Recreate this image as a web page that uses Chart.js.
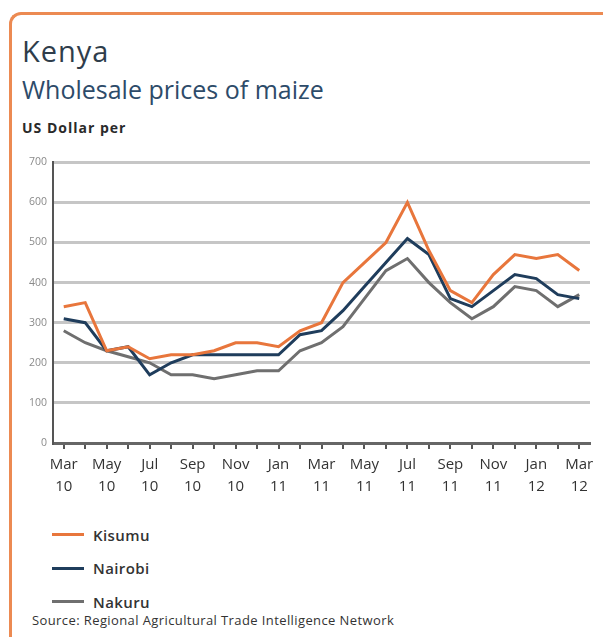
<!DOCTYPE html>
<html>
<head>
<meta charset="utf-8">
<script src="https://cdn.jsdelivr.net/npm/chart.js@4"></script>
<style>
  html, body { margin: 0; padding: 0; background: #fff; }
  body { width: 603px; height: 637px; position: relative; overflow: hidden; font-family: "Open Sans", "Noto Sans", sans-serif; }
  .frame { position: absolute; left: 9px; top: 12px; width: 600px; height: 640px; border-left: 3px solid #ec8a52; border-top: 3px solid #ec8a52; border-top-left-radius: 12px; box-sizing: border-box; }
  .title { position: absolute; left: 22px; top: 31px; font-size: 29px; color: #2f3d4b; letter-spacing: 1px; }
  .subtitle { position: absolute; left: 22px; top: 72px; font-size: 25px; color: #2d4b69; }
  .unit { position: absolute; left: 22px; top: 118px; font-size: 14px; font-weight: bold; color: #2a2a2a; letter-spacing: 1px; }
  #wrap { position: absolute; left: 0; top: 150px; width: 603px; height: 350px; }
  .legend { position: absolute; left: 52px; top: 518px; font-size: 15px; font-weight: 600; color: #333; letter-spacing: 0.4px; }
  .legend div { height: 33.5px; display: flex; align-items: center; }
  .legend i { display: inline-block; width: 32px; height: 3px; margin-right: 9px; }
  .source { position: absolute; left: 32px; top: 611px; font-size: 13px; color: #333; letter-spacing: 0.4px; }
</style>
</head>
<body>
<div class="frame"></div>
<div class="title">Kenya</div>
<div class="subtitle">Wholesale prices of maize</div>
<div class="unit">US Dollar per</div>
<div id="wrap"><canvas id="grafico"></canvas></div>
<div class="legend" id="legenda"></div>
<div class="source">Source: Regional Agricultural Trade Intelligence Network</div>
<script>
// Meses de Mar 10 a Mar 12
const meses = ["Mar","Apr","May","Jun","Jul","Aug","Sep","Oct","Nov","Dec","Jan","Feb",
               "Mar","Apr","May","Jun","Jul","Aug","Sep","Oct","Nov","Dec","Jan","Feb","Mar"];
const anos = ["10","10","10","10","10","10","10","10","10","10","11","11",
              "11","11","11","11","11","11","11","11","11","11","12","12","12"];

// Preços (USD por tonelada)
const kisumu  = [340,350,230,240,210,220,220,230,250,250,240,280,300,400,450,500,600,480,380,350,420,470,460,470,430];
const nairobi = [310,300,230,240,170,200,220,220,220,220,220,270,280,330,390,450,510,470,360,340,380,420,410,370,360];
const nakuru  = [280,250,230,215,200,170,170,160,170,180,180,230,250,290,360,430,460,400,350,310,340,390,380,340,370];

const yTicks = [0,100,200,300,400,500,600,700];

const series = [
    { label: "Kisumu",  data: kisumu,  cor: "#e8763c" },
    { label: "Nairobi", data: nairobi, cor: "#1f3d5c" },
    { label: "Nakuru",  data: nakuru,  cor: "#6f6f6f" }
];

const labels = meses.map((m, i) => [m, anos[i]]);

new Chart(document.getElementById("grafico"), {
    type: "line",
    data: {
        labels: labels,
        datasets: series.map(s => ({
            label: s.label,
            data: s.data,
            borderColor: s.cor,
            backgroundColor: s.cor,
            borderWidth: 3,
            pointRadius: 0,
            tension: 0
        }))
    },
    options: {
        responsive: true,
        maintainAspectRatio: false,
        animation: false,
        layout: { padding: { top: 12, right: 13, left: 0, bottom: 0 } },
        plugins: { legend: { display: false }, tooltip: { enabled: false } },
        scales: {
            x: {
                offset: true,
                grid: {
                    offset: false,
                    drawOnChartArea: false,
                    drawTicks: true,
                    tickLength: 6,
                    color: "#555",
                    lineWidth: 2
                },
                border: { color: "#666", width: 3 },
                ticks: {
                    autoSkip: false,
                    maxRotation: 0,
                    padding: 5,
                    color: "#333",
                    font: { family: "'Open Sans', sans-serif", size: 15, lineHeight: 1.45 },
                    callback: (v, i) => (i % 2 === 0 ? labels[i] : "")
                },
                afterFit: (scale) => { scale.height = 57; }
            },
            y: {
                min: 0,
                max: 700,
                afterBuildTicks: (scale) => { scale.ticks = yTicks.map(v => ({ value: v })); },
                grid: { color: "#c6c6c6", lineWidth: 3, drawTicks: false },
                border: { color: "#555", width: 2 },
                ticks: {
                    padding: 6,
                    color: "#8a8a8a",
                    font: { family: "'Open Sans', sans-serif", size: 10.5 }
                },
                afterFit: (scale) => { scale.width = 53; }
            }
        }
    }
});

// Legenda em HTML
document.getElementById("legenda").innerHTML = series
    .map(s => `<div><i style="background:${s.cor}"></i>${s.label}</div>`)
    .join("");
</script>
</body>
</html>
